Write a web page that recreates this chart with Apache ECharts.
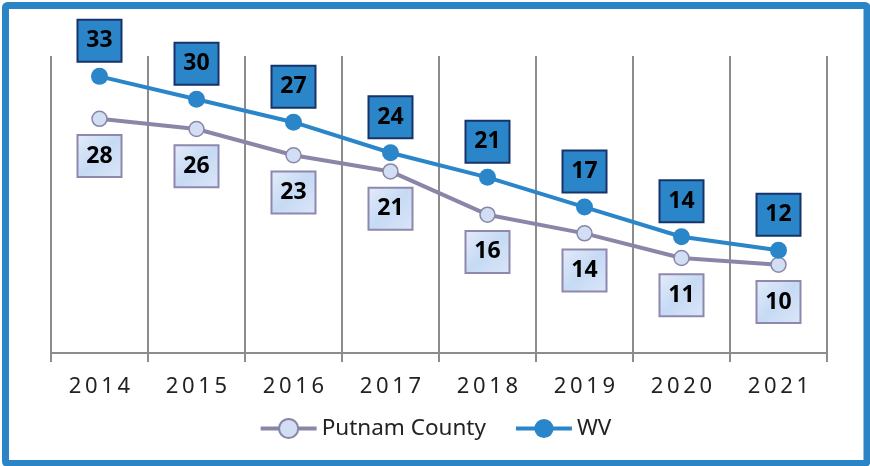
<!DOCTYPE html>
<html>
<head>
<meta charset="utf-8">
<script src="https://cdn.jsdelivr.net/npm/echarts@6/dist/echarts.min.js"></script>
<style>
html,body{margin:0;padding:0;background:#fff;}
#chart{width:870px;height:466px;}
</style>
</head>
<body>
<div id="chart"></div>
<script>
const years = ['2014','2015','2016','2017','2018','2019','2020','2021'];
const putnam = [27.6, 26.4, 23.3, 21.4, 16.3, 14.1, 11.2, 10.4];
const wv = [32.6, 29.9, 27.2, 23.6, 20.7, 17.2, 13.7, 12.1];
const yMin = 0;
const yMax = 35;

const chart = echarts.init(document.getElementById('chart'), null, {renderer: 'canvas'});
const labelFont = {fontFamily: 'Noto Sans', fontWeight: 'bold', fontSize: 23, color: '#000'};

chart.setOption({
  animation: false,
  backgroundColor: '#fff',
  graphic: [{
    type: 'rect',
    shape: {x: 5.5, y: 5.5, width: 861.5, height: 458, r: 2},
    style: {fill: 'none', stroke: '#2A84C6', lineWidth: 7},
    z: 100
  }],
  grid: {left: 51, right: 43, top: 56, bottom: 113},
  legend: {
    bottom: 21,
    left: 'center',
    itemWidth: 56,
    itemHeight: 24,
    itemGap: 28,
    lineStyle: {width: 4},
    textStyle: {fontFamily: 'Noto Sans', fontSize: 22.5, color: '#222'},
    data: ['Putnam County', 'WV']
  },
  xAxis: {
    type: 'category',
    data: years,
    boundaryGap: true,
    axisLine: {lineStyle: {color: '#8c8c8c', width: 2}},
    axisTick: {show: true, length: 9, lineStyle: {color: '#8c8c8c', width: 2}},
    axisLabel: {
      margin: 23,
      fontFamily: 'Noto Sans',
      fontSize: 22,
      color: '#222',
      formatter: v => v.split('').join('\u2009')
    },
    splitLine: {show: true, lineStyle: {color: '#8c8c8c', width: 2}}
  },
  yAxis: {
    type: 'value',
    min: yMin,
    max: yMax,
    show: false,
    splitLine: {show: false}
  },
  series: [
    {
      name: 'Putnam County',
      type: 'line',
      data: putnam,
      z: 3,
      symbol: 'circle',
      symbolSize: 15,
      lineStyle: {color: '#8A86A8', width: 4},
      itemStyle: {color: '#D2DEF3', borderColor: '#8A86A8', borderWidth: 1.5},
      label: {
        show: true,
        position: 'bottom',
        distance: 9,
        formatter: p => Math.round(p.value),
        ...labelFont,
        backgroundColor: {
          type: 'linear', x: 0, y: 0, x2: 1, y2: 1,
          colorStops: [{offset: 0, color: '#E4ECFA'}, {offset: 0.5, color: '#C6DAF4'}, {offset: 1, color: '#DCE6F8'}]
        },
        borderColor: '#8E88AE',
        borderWidth: 2,
        width: 28,
        align: 'center',
        lineHeight: 30,
        padding: [5, 7, 5, 7]
      }
    },
    {
      name: 'WV',
      type: 'line',
      data: wv,
      z: 4,
      symbol: 'circle',
      symbolSize: 17,
      lineStyle: {color: '#2A86C8', width: 4},
      itemStyle: {color: '#2A86C8', borderColor: '#2A86C8', borderWidth: 0},
      label: {
        show: true,
        position: 'top',
        distance: 7,
        formatter: p => Math.round(p.value),
        ...labelFont,
        backgroundColor: '#2A86C8',
        borderColor: '#17336A',
        borderWidth: 2,
        width: 28,
        align: 'center',
        lineHeight: 30,
        padding: [5, 7, 5, 7]
      }
    }
  ]
});
</script>
</body>
</html>
